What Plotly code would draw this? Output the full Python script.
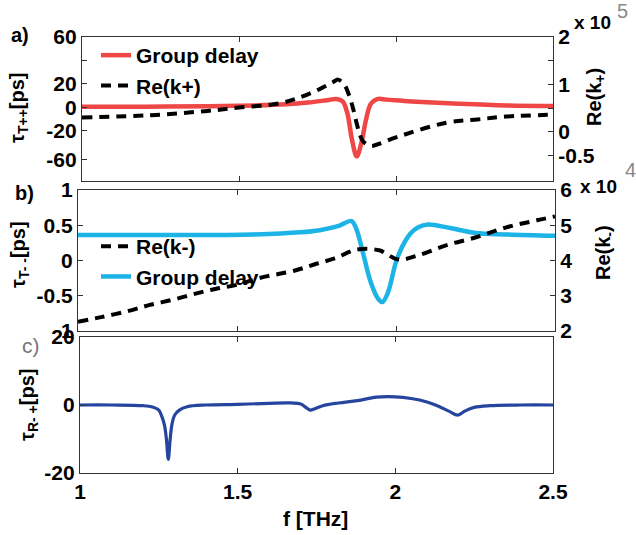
import plotly.graph_objects as go

# ---------------- data ----------------
# panel a: group delay tau_T++ [ps]
fa_gd = [1.0, 1.2, 1.4, 1.55, 1.65, 1.72, 1.78, 1.81, 1.83, 1.845, 1.86, 1.875,
         1.89, 1.905, 1.92, 1.94, 1.97, 2.05, 2.2, 2.35, 2.5]
tau_tpp = [0.5, 0.5, 0.8, 1.5, 2.5, 4.0, 6.0, 7.0, 5.0, -5.0, -28.0, -42.0,
           -30.0, -10.0, 3.0, 7.0, 6.5, 5.0, 3.0, 1.5, 1.0]
# panel a: Re(k+) in units of 1e5
fa_k = [1.0, 1.22, 1.4, 1.5, 1.63, 1.70, 1.76, 1.80, 1.815, 1.835, 1.85, 1.865,
        1.88, 1.895, 1.92, 1.94, 2.0, 2.16, 2.26, 2.35, 2.5]
rek_plus = [0.30, 0.35, 0.44, 0.51, 0.60, 0.74, 0.91, 1.05, 1.10, 1.0, 0.78, 0.45,
            0.05, -0.2, -0.3, -0.27, -0.12, 0.19, 0.26, 0.32, 0.36]

# panel b: group delay tau_T-- [ps]
fb_gd = [1.0, 1.3, 1.55, 1.7, 1.76, 1.82, 1.86, 1.875, 1.895, 1.92, 1.945, 1.957,
         1.975, 2.0, 2.02, 2.045, 2.07, 2.1, 2.17, 2.25, 2.35, 2.5]
tau_tmm = [0.36, 0.36, 0.37, 0.40, 0.43, 0.49, 0.56, 0.45, 0.13, -0.3, -0.55, -0.59,
           -0.45, -0.02, 0.2, 0.38, 0.47, 0.51, 0.46, 0.39, 0.37, 0.35]
# panel b: Re(k-) in units of 1e4
fb_k = [1.0, 1.076, 1.16, 1.226, 1.3, 1.37, 1.435, 1.5, 1.569, 1.68, 1.747, 1.807,
        1.877, 1.947, 2.007, 2.068, 2.157, 2.252, 2.347, 2.443, 2.5]
rek_minus = [2.26, 2.4, 2.57, 2.74, 2.89, 3.06, 3.2, 3.31, 3.5, 3.71, 3.9, 4.06,
             4.31, 4.29, 4.03, 4.14, 4.43, 4.66, 4.94, 5.14, 5.25]

# panel c: tau_R-+ [ps]
fc = [1.0, 1.1, 1.2, 1.23, 1.25, 1.26, 1.268, 1.274, 1.28, 1.286, 1.292, 1.30,
      1.315, 1.34, 1.4, 1.5, 1.6, 1.67, 1.7, 1.715, 1.73, 1.745, 1.77, 1.82,
      1.88, 1.94, 2.0, 2.05, 2.1, 2.14, 2.17, 2.198, 2.22, 2.25, 2.3, 2.4, 2.5]
tau_rmp = [0.0, 0.0, -0.2, -0.6, -1.5, -3.5, -6.0, -10.0, -16.0, -10.0, -5.5, -3.0,
           -1.5, -0.5, 0.0, 0.2, 0.5, 0.6, 0.3, -0.6, -1.5, -1.1, -0.2, 0.6,
           1.3, 2.3, 2.4, 1.9, 0.9, -0.5, -1.8, -3.0, -1.8, -0.7, -0.2, 0.0, 0.0]

W, H = 636, 535
def px(x):
    return x / W
def py(y):
    return 1 - y / H

FONT = "Liberation Sans, Arial, Helvetica, sans-serif"
RED = "#ef4646"
CYAN = "#1cb4e6"
BLUE = "#26459f"
DASH = "10px,7px"

fig = go.Figure()
fig.add_trace(go.Scatter(x=fa_gd, y=tau_tpp, name="Group delay", mode="lines",
                         line=dict(color=RED, width=4.5, shape="spline"),
                         xaxis="x", yaxis="y", legend="legend"))
fig.add_trace(go.Scatter(x=fa_k, y=rek_plus, name="Re(k+)", mode="lines",
                         line=dict(color="black", width=4, dash=DASH, shape="spline"),
                         xaxis="x", yaxis="y2", legend="legend"))
fig.add_trace(go.Scatter(x=fb_k, y=rek_minus, name="Re(k-)", mode="lines",
                         line=dict(color="black", width=4, dash=DASH, shape="spline"),
                         xaxis="x2", yaxis="y4", legend="legend2"))
fig.add_trace(go.Scatter(x=fb_gd, y=tau_tmm, name="Group delay", mode="lines",
                         line=dict(color=CYAN, width=4.5, shape="spline"),
                         xaxis="x2", yaxis="y3", legend="legend2"))
fig.add_trace(go.Scatter(x=fc, y=tau_rmp, mode="lines", showlegend=False,
                         line=dict(color=BLUE, width=3.2, shape="spline"),
                         xaxis="x3", yaxis="y5"))

tickfont = dict(family=FONT, size=21, color="black", weight="bold")

def xax(domain, anchor, labels):
    return dict(domain=domain, anchor=anchor, range=[1, 2.5], automargin=False,
                tickvals=[1, 1.5, 2, 2.5], ticktext=["1", "1.5", "2", "2.5"],
                showticklabels=labels, ticks="inside", ticklen=5, tickcolor="#333",
                showline=True, linecolor="#333", linewidth=1.3, mirror="ticks",
                showgrid=False, zeroline=False, tickfont=tickfont)

def yax(domain, anchor, rng, vals, texts, side="left", overlay=None, mirror=False):
    d = dict(domain=domain, anchor=anchor, range=rng, tickvals=vals, ticktext=texts,
             side=side, ticks="inside", ticklen=5, tickcolor="#333", automargin=False,
             showline=True, linecolor="#333", linewidth=1.3, mirror=mirror,
             showgrid=False, zeroline=False, tickfont=tickfont)
    if overlay:
        d["overlaying"] = overlay
    return d

dom_a_y = [py(181), py(37)]
dom_b_y = [py(331), py(190)]
dom_c_y = [py(473), py(337)]

fig.update_layout(
    width=W, height=H,
    margin=dict(l=0, r=0, t=0, b=0, pad=0, autoexpand=False),
    paper_bgcolor="white", plot_bgcolor="white",
    xaxis=xax([px(82), px(553)], "y", False),
    xaxis2=xax([px(78), px(555)], "y3", False),
    xaxis3=xax([px(80), px(553)], "y5", True),
    yaxis=yax(dom_a_y, "x", [-63, 60], [60, 40, 20, 0, -20, -45],
              ["60", "", "20", "0", "-20", "-60"]),
    yaxis2=yax(dom_a_y, "x", [-1.04, 2.0], [2, 1.5, 1, 0.5, 0, -0.5],
               ["2", "", "1", "", "0", "-0.5"], side="right", overlay="y"),
    yaxis3=yax(dom_b_y, "x2", [-1, 1], [1, 0.5, 0, -0.5, -1],
               ["1", "0.5", "0", "-0.5", "1"]),
    yaxis4=yax(dom_b_y, "x2", [2, 6], [6, 5, 4, 3, 2],
               ["6", "5", "4", "3", "2"], side="right", overlay="y3"),
    yaxis5=yax(dom_c_y, "x3", [-20, 20], [20, 0, -20], ["20", "0", "-20"], mirror=True),
    legend=dict(x=px(96), y=py(35), xanchor="left", yanchor="top",
                bgcolor="rgba(0,0,0,0)", tracegroupgap=0,
                font=dict(family=FONT, size=21, color="black", weight="bold")),
    legend2=dict(x=px(96), y=py(226), xanchor="left", yanchor="top",
                 bgcolor="rgba(0,0,0,0)", tracegroupgap=0,
                 font=dict(family=FONT, size=21, color="black", weight="bold")),
    showlegend=True,
)

def ann(text, x, y, size=20, color="black", weight="bold", angle=0):
    fig.add_annotation(text=text, x=px(x), y=py(y), xref="paper", yref="paper",
                       showarrow=False, textangle=angle, xanchor="center", yanchor="middle",
                       font=dict(family=FONT, size=size, color=color, weight=weight))

# panel labels
ann("a)", 20, 35, 20)
ann("b)", 24, 193, 20)
ann("c)", 31, 345, 21, color="#777", weight="normal")
# left axis titles
ann("τ<sub>T++</sub>[ps]", 19, 108, 20, angle=-90)
ann("τ<sub>T- -</sub>[ps]", 20, 255, 20, angle=-90)
ann("τ<sub>R- +</sub>[ps]", 28, 405, 20, angle=-90)
# right axis titles
ann("Re(k<sub>+</sub>)", 596, 97, 20, angle=-90)
ann("Re(k<sub>-</sub>)", 604, 253, 20, angle=-90)
# exponent labels
ann("x 10", 592, 22, 19)
ann("5", 622, 11, 20, color="#888", weight="normal")
ann("x 10", 598, 187, 19)
ann("4", 630, 170, 20, color="#888", weight="normal")
# x-axis title
ann("f [THz]", 315, 518, 21)

fig.write_html("out.html")
